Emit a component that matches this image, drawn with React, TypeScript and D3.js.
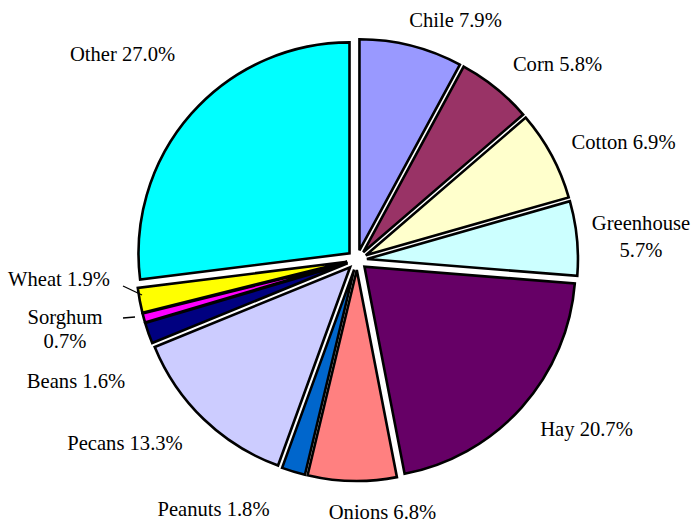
import React from "react";
import * as d3 from "d3";

const categories = ["Chile", "Corn", "Cotton", "Greenhouse", "Hay", "Onions", "Peanuts", "Pecans", "Beans", "Sorghum", "Wheat", "Other"];
const values = [7.9, 5.8, 6.9, 5.7, 20.7, 6.8, 1.8, 13.3, 1.6, 0.7, 1.9, 27.0];
const colors = ["#9999FF", "#993366", "#FFFFCC", "#CCFFFF", "#660066", "#FF8080", "#0066CC", "#CCCCFF", "#000080", "#FF00FF", "#FFFF00", "#00FFFF"];

// label layout: centre x and cap-centre y of first line (page coords) — layout constants
const labelPos: [number, number][] = [
  [455.5, 20], [557.5, 64], [623.5, 142], [641, 223], [586.5, 429.5], [382.5, 512],
  [213.5, 509], [125, 443], [76, 381], [65, 317], [59, 279], [122.5, 54],
];
const twoLine = new Set(["Greenhouse", "Sorghum"]);
const leaders: Record<string, [number, number, number, number]> = {
  Wheat: [123, 286, 142, 295],
  Sorghum: [123, 318, 135, 317],
};

export default function App() {
  const W = 695, H = 525;
  const cx = 357, cy = 260, r = 211, explode = 10;
  const fs = 20.6;
  const pie = d3.pie<number>().sort(null).value((d) => d)(values);
  const arc = d3.arc<d3.PieArcDatum<number>>().innerRadius(0).outerRadius(r);
  return (
    <svg width={W} height={H} style={{ position: "absolute", left: 0, top: 0, fontFamily: "'Liberation Serif', 'Times New Roman', serif" }} fontSize={fs}>
      <rect width={W} height={H} fill="#fff" />
      <g transform={`translate(${cx},${cy})`}>
        {pie.map((p, i) => {
          const mid = (p.startAngle + p.endAngle) / 2;
          const dx = Math.sin(mid) * explode, dy = -Math.cos(mid) * explode;
          return (
            <path key={i} d={arc(p) || ""} transform={`translate(${dx},${dy})`} fill={colors[i]} stroke="#000" strokeWidth={2.6} strokeLinejoin="miter" />
          );
        })}
      </g>
      {categories.map((name, i) => {
        const l = leaders[name];
        if (!l) return null;
        return <line key={"l" + i} x1={l[0]} y1={l[1]} x2={l[2]} y2={l[3]} stroke="#000" strokeWidth={1.3} />;
      })}
      {categories.map((name, i) => {
        const [lx, ly] = labelPos[i];
        const pct = values[i].toFixed(1) + "%";
        const base = ly + fs * 0.33;
        if (twoLine.has(name)) {
          return (
            <g key={"t" + i}>
              <text x={lx} y={base} textAnchor="middle" fill="#000">{name}</text>
              <text x={lx} y={base + (name === "Greenhouse" ? 27 : 24.5)} textAnchor="middle" fill="#000">{pct}</text>
            </g>
          );
        }
        return (
          <text key={"t" + i} x={lx} y={base} textAnchor="middle" fill="#000">{`${name} ${pct}`}</text>
        );
      })}
    </svg>
  );
}
